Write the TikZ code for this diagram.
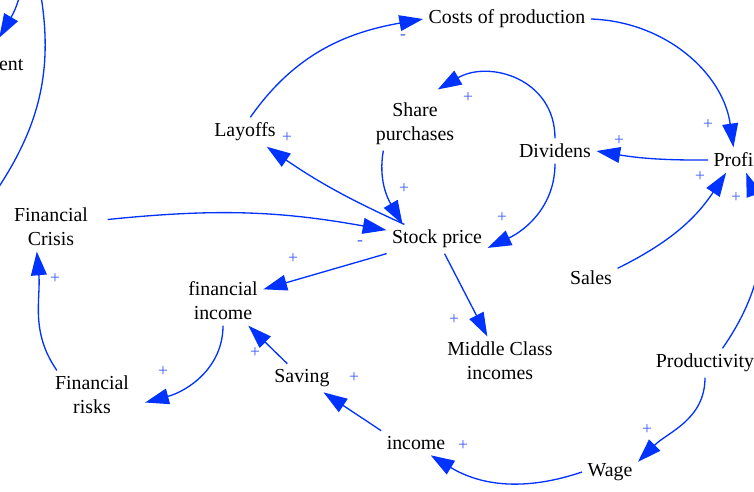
\documentclass[tikz,border=0pt]{standalone}
\usepackage{fontspec}
\setmainfont{Liberation Serif}
\usepackage{tikz}
\usetikzlibrary{arrows.meta}
\definecolor{cldblue}{RGB}{0,51,255}
\definecolor{signblue}{RGB}{60,90,255}
\tikzstyle{var} = [align=center, inner sep=3pt, font=\fontsize{11.3}{13.6}\selectfont]
\tikzstyle{arrow} = [draw=cldblue, line width=0.75pt, -{Triangle[length=13.5pt,width=9pt]}]
\tikzstyle{link} = [draw=cldblue, line width=0.75pt]
\tikzstyle{sign} = [text=signblue, inner sep=0pt, font=\fontsize{10}{12}\selectfont]

\begin{document}
\begin{tikzpicture}[x=0.02cm, y=0.02cm]
\useasboundingbox (0,0) rectangle (754,-491);
\clip (0,0) rectangle (754,-491);
% variables
\node (cost) [var] at (507,-19) {Costs of production};
\node (lay) [var] at (245,-132) {Layoffs};
\node (share) [var] at (415,-124) {Share\\purchases};
\node (div) [var] at (555,-151) {Dividens};
\node (profit) [var, anchor=west] at (708,-160) {Profi};
\node (ent) [var, anchor=east] at (29,-65) {ent};
\node (crisis) [var] at (51,-227) {Financial\\Crisis};
\node (stock) [var] at (437,-239) {Stock price};
\node (fin) [var] at (223,-301) {financial\\income};
\node (sales) [var] at (591,-278) {Sales};
\node (middle) [var] at (500,-361) {Middle Class\\incomes};
\node (prod) [var] at (705,-363) {Productivity};
\node (risks) [var] at (92,-395) {Financial\\risks};
\node (saving) [var] at (302,-378) {Saving};
\node (income) [var] at (416,-443) {income};
\node (wage) [var] at (610,-472) {Wage};
\coordinate (entsrc) at (22,15);
\coordinate (loopin) at (40,10);
\coordinate (loopout) at (-10,-200);
% links
\draw [arrow] (lay.70) to[out=55, in=190] (cost.west);
\draw [arrow] (cost.east) to[bend left=40] (profit.north);
\draw [arrow] (profit.west) to[bend left=5] (div.east);
\draw [arrow] (div.north) to[out=90, in=30, looseness=1.2] ([shift={(-22,8)}]share.north east);
\draw [arrow] (div.south) to[out=-90, in=25] (stock.-10);
\draw [arrow] (share.220) to[out=-100, in=120] (stock.157);
\draw [arrow] (stock) to[bend left=5] (lay);
\draw [arrow] ([xshift=8pt]crisis.10) to[bend left=8] (stock.170);
\draw [arrow] (stock) -- (fin);
\draw [arrow] (stock) -- (middle);
\draw [arrow] (fin.south) to[out=-90, in=15] ([xshift=6pt]risks.-10);
\draw [arrow] (risks.145) to[out=125, in=-85] (crisis.-120);
\draw [arrow] (saving) -- (fin);
\draw [arrow] (income.north west) -- (saving);
\draw [arrow] (wage.west) to[bend left=25] (income.-40);
\draw [arrow] (prod.south) to[out=-90, in=45] (wage.20);
\draw [arrow] (sales.20) to[bend right=15] (profit.-120);
\draw [arrow] (prod.40) to[out=55, in=-70] (profit.-45);
\draw [arrow] (entsrc) to[out=-100, in=60] ([shift={(-12,16)}]ent.north);
\draw [link] (loopin) to[out=-80, in=55] (loopout);
% polarities
\node (s1) [sign] at (403,-37) {-};
\node (s2) [sign] at (708,-125) {+};
\node (s3) [sign] at (619,-141) {+};
\node (s4) [sign] at (468,-98) {+};
\node (s5) [sign] at (502,-218) {+};
\node (s6) [sign] at (404,-189) {+};
\node (s7) [sign] at (287,-138) {+};
\node (s8) [sign] at (360,-243) {-};
\node (s9) [sign] at (293,-259) {+};
\node (s10) [sign] at (454,-320) {+};
\node (s11) [sign] at (163,-372) {+};
\node (s12) [sign] at (55,-279) {+};
\node (s13) [sign] at (255,-353) {+};
\node (s14) [sign] at (354,-378) {+};
\node (s15) [sign] at (463,-446) {+};
\node (s16) [sign] at (647,-430) {+};
\node (s17) [sign] at (700,-177) {+};
\node (s18) [sign] at (736,-198) {+};
\end{tikzpicture}
\end{document}
